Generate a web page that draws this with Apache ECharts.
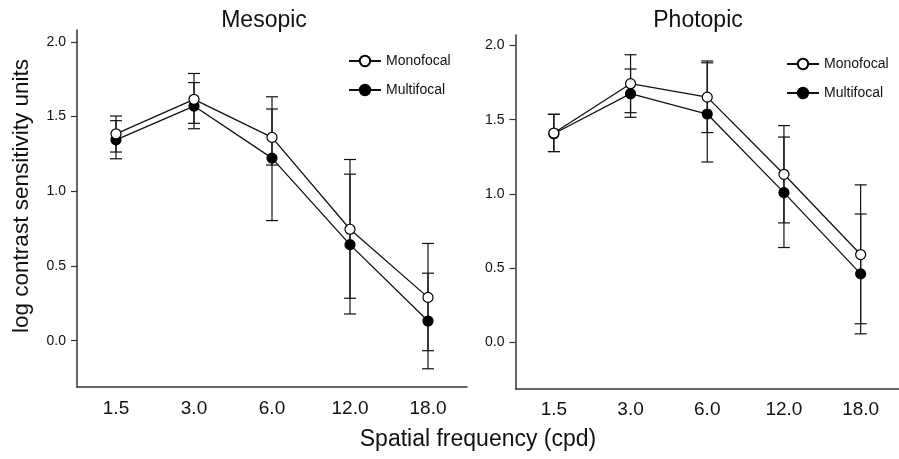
<!DOCTYPE html>
<html>
<head>
<meta charset="utf-8">
<script src="https://cdn.jsdelivr.net/npm/echarts@6/dist/echarts.min.js"></script>
<style>
html,body{margin:0;padding:0;background:#fff;}
#chart{width:899px;height:459px;}
</style>
</head>
<body>
<div id="chart"></div>
<script>
// ---- data ----
const categories = ['1.5', '3.0', '6.0', '12.0', '18.0'];
const yTickValues = [0, 0.5, 1.0, 1.5, 2.0];

// Mesopic
const mesoMono = [1.385, 1.616, 1.361, 0.746, 0.29];
const mesoMonoUpper = [1.504, 1.789, 1.551, 1.213, 0.651];
const mesoMonoLower = [1.263, 1.455, 1.176, 0.284, -0.067];
const mesoMulti = [1.345, 1.571, 1.222, 0.643, 0.132];
const mesoMultiUpper = [1.473, 1.728, 1.633, 1.115, 0.452];
const mesoMultiLower = [1.218, 1.419, 0.804, 0.179, -0.188];

// Photopic
const photMono = [1.41, 1.742, 1.652, 1.132, 0.592];
const photMonoUpper = [1.536, 1.937, 1.895, 1.460, 1.061];
const photMonoLower = [1.285, 1.547, 1.413, 0.805, 0.126];
const photMulti = [1.405, 1.675, 1.538, 1.009, 0.462];
const photMultiUpper = [1.536, 1.841, 1.883, 1.383, 0.865];
const photMultiLower = [1.285, 1.516, 1.215, 0.639, 0.058];

// ---- chart ----
const FONT = '"Liberation Sans", Arial, sans-serif';
const AXIS_COLOR = '#333';

function errData(lower, upper) {
  return categories.map((c, i) => [c, lower[i], upper[i]]);
}
function errRender(params, api) {
  const x = api.value(0);
  const lo = api.coord([x, api.value(1)]);
  const hi = api.coord([x, api.value(2)]);
  const w = 6;
  const st = { stroke: '#111', lineWidth: 1.2 };
  return {
    type: 'group',
    children: [
      { type: 'line', shape: { x1: hi[0], y1: hi[1], x2: lo[0], y2: lo[1] }, style: st },
      { type: 'line', shape: { x1: hi[0] - w, y1: hi[1], x2: hi[0] + w, y2: hi[1] }, style: st },
      { type: 'line', shape: { x1: lo[0] - w, y1: lo[1], x2: lo[0] + w, y2: lo[1] }, style: st }
    ]
  };
}
function xAxisDef(gi) {
  return {
    type: 'category', gridIndex: gi, data: categories, boundaryGap: true,
    axisLine: { onZero: false, lineStyle: { color: AXIS_COLOR, width: 1.5 } },
    axisTick: { alignWithLabel: true, length: 5, lineStyle: { color: AXIS_COLOR, width: 1.2 } },
    axisLabel: { color: '#111', fontFamily: FONT, fontSize: 19, margin: 12 },
    splitLine: { show: false }
  };
}
function yAxisDef(gi, min, max) {
  return {
    type: 'value', gridIndex: gi, min: min, max: max,
    axisLine: { show: true, onZero: false, lineStyle: { color: AXIS_COLOR, width: 1.5 } },
    axisTick: { show: true, length: 6, customValues: yTickValues, lineStyle: { color: AXIS_COLOR, width: 1.2 } },
    axisLabel: { color: '#111', fontFamily: FONT, fontSize: 14, margin: 11, customValues: yTickValues,
      formatter: v => v.toFixed(1) },
    splitLine: { show: false }
  };
}
function lineSeries(name, data, gi, filled, z) {
  return {
    name: name, type: 'line', xAxisIndex: gi, yAxisIndex: gi, data: data, z: z,
    symbol: 'circle', symbolSize: 10, showAllSymbol: true,
    lineStyle: { color: '#111', width: 1.3 },
    itemStyle: { color: filled ? '#000' : '#fff', borderColor: '#000', borderWidth: 1.2 },
    emphasis: { disabled: true }, animation: false
  };
}
function errSeries(name, lower, upper, gi) {
  return {
    name: name, type: 'custom', xAxisIndex: gi, yAxisIndex: gi, z: 1,
    renderItem: errRender, data: errData(lower, upper),
    encode: { x: 0, y: [1, 2] }, animation: false, silent: true
  };
}
function legendDef(left, top) {
  return {
    left: left, top: top, orient: 'vertical', itemWidth: 32, itemHeight: 13, itemGap: 15,
    data: ['Monofocal', 'Multifocal'], selectedMode: false,
    textStyle: { fontFamily: FONT, fontSize: 14, color: '#111' }
  };
}

const chart = echarts.init(document.getElementById('chart'), null, { renderer: 'canvas' });
chart.setOption({
  backgroundColor: '#fff',
  animation: false,
  grid: [
    { left: 77, top: 30, width: 390, height: 357 },
    { left: 515.5, top: 35, width: 395, height: 353.5 }
  ],
  xAxis: [xAxisDef(0), xAxisDef(1)],
  yAxis: [yAxisDef(0, -0.31, 2.08), yAxisDef(1, -0.31, 2.07)],
  legend: [legendDef(343, 49), legendDef(781, 52)],
  graphic: [
    { type: 'text', style: { text: 'Mesopic', x: 264, y: 21, textAlign: 'center', textVerticalAlign: 'middle', font: '23px ' + FONT, fill: '#111' } },
    { type: 'text', style: { text: 'Photopic', x: 698, y: 21, textAlign: 'center', textVerticalAlign: 'middle', font: '23px ' + FONT, fill: '#111' } },
    { type: 'text', style: { text: 'Spatial frequency (cpd)', x: 478, y: 440, textAlign: 'center', textVerticalAlign: 'middle', font: '23px ' + FONT, fill: '#111' } },
    { type: 'text', x: 22, y: 196, rotation: Math.PI / 2, style: { text: 'log contrast sensitivity units', x: 0, y: 0, textAlign: 'center', textVerticalAlign: 'middle', font: '22.5px ' + FONT, fill: '#111' } }
  ],
  series: [
    errSeries('errMesoMulti', mesoMultiLower, mesoMultiUpper, 0),
    errSeries('errMesoMono', mesoMonoLower, mesoMonoUpper, 0),
    lineSeries('Multifocal', mesoMulti, 0, true, 2),
    lineSeries('Monofocal', mesoMono, 0, false, 3),
    errSeries('errPhotMulti', photMultiLower, photMultiUpper, 1),
    errSeries('errPhotMono', photMonoLower, photMonoUpper, 1),
    lineSeries('Multifocal', photMulti, 1, true, 2),
    lineSeries('Monofocal', photMono, 1, false, 3)
  ]
});
</script>
</body>
</html>
